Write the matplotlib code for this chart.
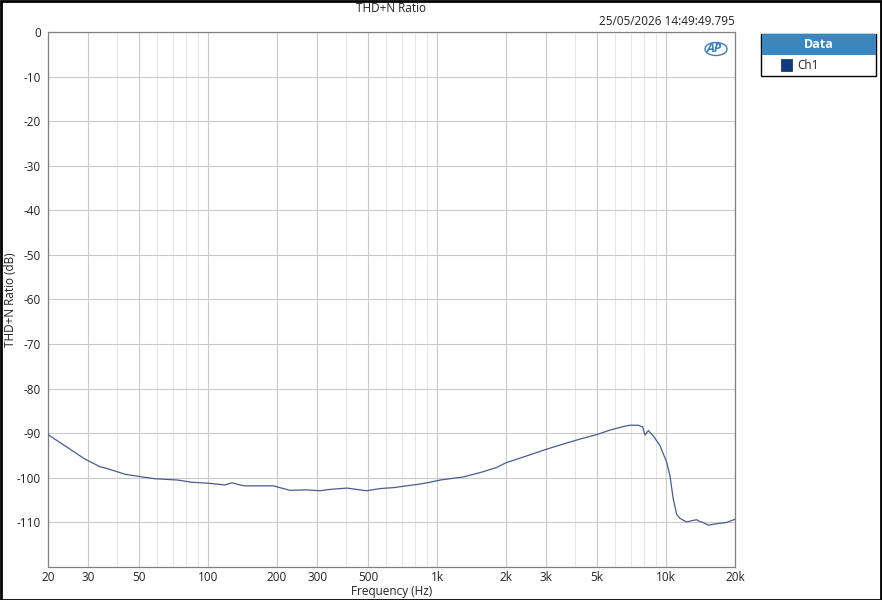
import matplotlib
matplotlib.use("Agg")
import matplotlib.pyplot as plt
from matplotlib.patches import Rectangle, Ellipse
import numpy as np

plt.rcParams['font.family'] = ['Open Sans', 'DejaVu Sans']
plt.rcParams['axes.unicode_minus'] = False

freq = [20, 23.7, 29, 33.7, 36.7, 43.4, 50, 58.6, 74, 84.8, 100, 118.6, 127, 137.9,
        144.8, 168.6, 192.6, 228, 270, 308, 340, 404, 492, 566, 645, 734, 840, 930,
        1030, 1302, 1548, 1816, 2003, 2360, 3000, 3566, 4212, 4980, 5690, 6510, 6960,
        7560, 7908, 8092, 8366, 8796, 9412, 10062, 10404, 10754, 11128, 11504, 12304,
        13000, 13608, 14000, 14308, 15286, 16636, 18400, 20000]
thdn = [-90.3, -92.8, -95.8, -97.5, -98.0, -99.2, -99.7, -100.2, -100.5, -101.0, -101.2,
        -101.6, -101.1, -101.6, -101.8, -101.8, -101.8, -102.8, -102.7, -102.9, -102.6,
        -102.3, -102.9, -102.4, -102.2, -101.8, -101.4, -101.0, -100.5, -99.8, -98.8,
        -97.7, -96.6, -95.4, -93.6, -92.4, -91.3, -90.3, -89.3, -88.5, -88.2, -88.2,
        -88.6, -90.4, -89.4, -90.6, -92.8, -96.5, -99.6, -104.8, -108.2, -109.1, -109.9,
        -109.6, -109.4, -109.8, -109.9, -110.6, -110.3, -110.0, -109.3]

xticks = [20, 30, 50, 100, 200, 300, 500, 1000, 2000, 3000, 5000, 10000, 20000]
xticklabels = ["20", "30", "50", "100", "200", "300", "500", "1k", "2k", "3k", "5k", "10k", "20k"]
minor_x = [40, 60, 70, 80, 90, 400, 600, 700, 800, 900, 4000, 6000, 7000, 8000, 9000]
yticks = [0, -10, -20, -30, -40, -50, -60, -70, -80, -90, -100, -110]

W, H = 882, 600
fig = plt.figure(figsize=(W / 100, H / 100), dpi=100)
ax = fig.add_axes([48 / W, 1 - 567 / H, (735 - 48) / W, (567 - 32) / H])

ax.set_xscale('log')
ax.set_xlim(20, 20000)
ax.set_ylim(-120, 0)

for f in minor_x:
    ax.axvline(f, color='#e6e6e6', lw=0.8, zorder=0)
for f in xticks:
    ax.axvline(f, color='#cacaca', lw=0.8, zorder=0)
for y in yticks:
    ax.axhline(y, color='#cacaca', lw=0.8, zorder=0)

ax.plot(freq, thdn, color='#4a5a92', lw=0.9, zorder=3)

ax.set_xticks(xticks)
ax.set_xticklabels(xticklabels)
ax.xaxis.set_minor_locator(matplotlib.ticker.NullLocator())
ax.set_yticks(yticks)
ax.tick_params(length=0, labelsize=8.5, colors='#222222')
ax.tick_params(axis='y', pad=5)
ax.tick_params(axis='x', pad=3)
for s in ax.spines.values():
    s.set_color('#808080')
    s.set_linewidth(0.9)

fig.text(391.5 / W, 1 - 595 / H, 'Frequency (Hz)', ha='center', va='baseline', fontsize=8.5, color='#222222')
fig.text(11 / W, 1 - 300 / H, 'THD+N Ratio (dB)', ha='center', va='center', rotation=90,
         fontsize=8.5, color='#222222')

fig.text(391.5 / W, 1 - 12 / H, 'THD+N Ratio', ha='center', va='baseline', fontsize=8.5, color='#222222')
fig.text(735 / W, 1 - 25 / H, '25/05/2026 14:49:49.795', ha='right', va='baseline', fontsize=8.5, color='#222222')

# AP logo
fig.text(714 / W, 1 - 49 / H, 'AP', ha='center', va='center', fontsize=9, fontweight='bold',
         style='italic', color='#3a7fc0')
fig.patches.append(Ellipse((716 / W, 1 - 49 / H), 22 / W, 13 / H, transform=fig.transFigure,
                           fill=False, ec='#3a7fc0', lw=1.0))

# Legend
fig.patches.append(Rectangle((761 / W, 1 - 76 / H), (876 - 761) / W, (76 - 34) / H,
                             transform=fig.transFigure, fc='white', ec='black', lw=1.0))
fig.patches.append(Rectangle((761.5 / W, 1 - 55 / H), (875.5 - 761.5) / W, (55 - 34.5) / H,
                             transform=fig.transFigure, fc='#3a87c0', ec='none'))
fig.text(818.5 / W, 1 - 44.5 / H, 'Data', ha='center', va='center', fontsize=9,
         fontweight='bold', color='white')
fig.patches.append(Rectangle((781 / W, 1 - 71 / H), 11 / W, 12 / H, transform=fig.transFigure,
                             fc='#0f3a80', ec='#0a2a60', lw=0.5))
fig.text(797 / W, 1 - 65.5 / H, 'Ch1', ha='left', va='center', fontsize=8.5, color='#222222')

# Outer frame
fig.patches.append(Rectangle((0.5 / W, 0.5 / H), (W - 1.5) / W, (H - 1.5) / H,
                             transform=fig.transFigure, fill=False, ec='black', lw=2))

fig.savefig('out.png', dpi=100)
